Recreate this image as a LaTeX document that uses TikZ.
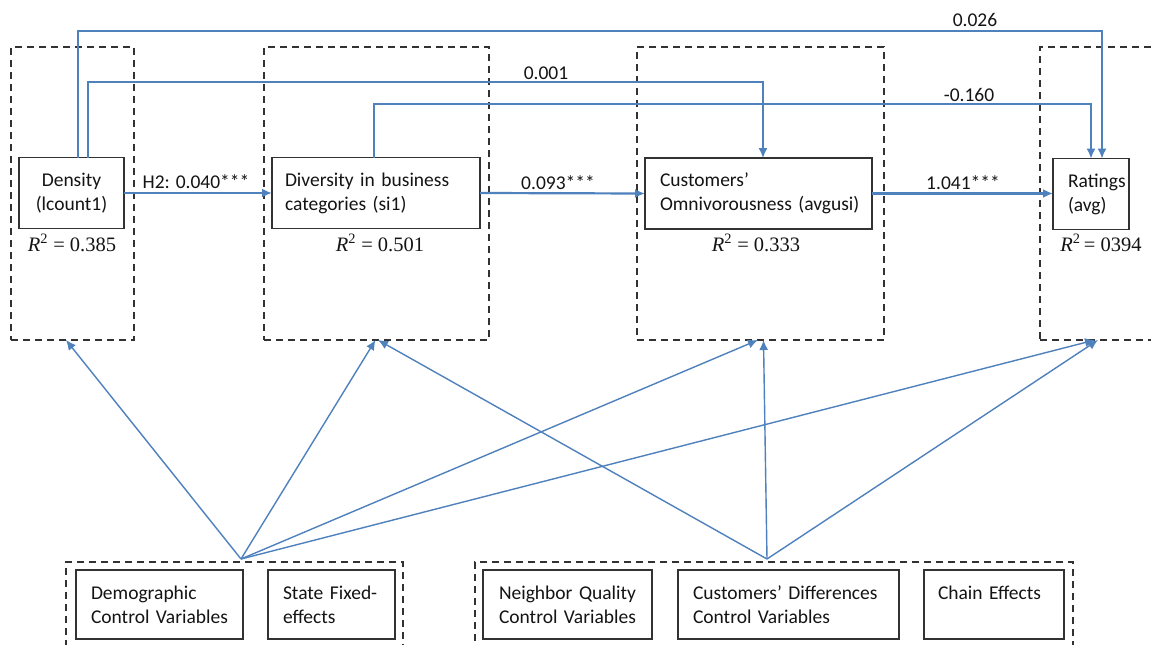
\documentclass[tikz,border=0pt]{standalone}
\usepackage{fontspec}
\setmainfont{Carlito}
\newfontfamily\eqfont{Liberation Serif}
\usetikzlibrary{arrows.meta}
\definecolor{pathblue}{RGB}{79,129,189}
\definecolor{frame}{RGB}{50,50,50}
\hyphenpenalty=10000
\exhyphenpenalty=10000
% an R-squared value set in a serif face
\newcommand{\rsq}[2][\ ]{{\eqfont\itshape R}\textsuperscript{\eqfont 2}{\eqfont#1=\ #2}}
\begin{document}
\begin{tikzpicture}[x=1pt,y=-1pt,
  every node/.style={font=\fontsize{19.5}{24}\selectfont, text=black!92},
  dbox/.style={draw=frame, line width=1.9pt, dash pattern=on 7pt off 5pt,
    inner sep=0pt, outer sep=0pt},
  sbox/.style={draw=frame, line width=1.4pt, inner ysep=0pt, outer sep=0pt,
    align=left, minimum height=71pt},
  lbl/.style={inner sep=0pt},
  eq/.style={lbl, font=\fontsize{20.5}{24}\selectfont},
  link/.style={draw=pathblue, line width=1.5pt, -{Latex[length=10pt,width=9pt]}},
  mainlink/.style={link, line width=2.2pt},
  fan/.style={draw=pathblue, line width=1.4pt, -{Latex[length=10pt,width=9pt]}},
]
\useasboundingbox (0,0) rectangle (1151,645);
\fill[white] (0,0) rectangle (1151,645);
\clip (0,0) rectangle (1151,645);

% dashed groups around the model variables
\node[dbox, minimum width=123pt, minimum height=293pt] (D1) at (72.5,193.5) {};
\node[dbox, minimum width=225pt, minimum height=293pt] (D2) at (376.5,193.5) {};
\node[dbox, minimum width=247pt, minimum height=293pt] (D3) at (760.5,193.5) {};
\node[dbox, minimum width=125pt, minimum height=293pt] (D4) at (1102.5,193.5) {};

% dashed groups around the controls
\node[dbox, minimum width=337pt, minimum height=100pt] (B1) at (234.5,612) {};
\node[dbox, minimum width=598pt, minimum height=100pt] (B2) at (774,612) {};

% model variables
\node[sbox, minimum width=105pt, inner xsep=7pt, text width=91pt, align=center]
  (dens) at (71.5,193) {Density\\(lcount1)};
\node[sbox, minimum width=208pt, inner xsep=13pt, text width=182pt]
  (divr) at (376,193) {Diversity~in~business\\categories~(si1)};
\node[sbox, minimum width=227pt, inner xsep=15pt, text width=197pt]
  (cust) at (758.5,193.5) {Customers’\\Omnivorousness~(avgusi)};
\node[sbox, minimum width=76pt, inner xsep=15pt, text width=46pt]
  (rat) at (1091,194) {Ratings\\(avg)};

% R-squared values
\node[eq] (r1) at (72,243) {\rsq{0.385}};
\node[eq] (r2) at (380,243) {\rsq{0.501}};
\node[eq] (r3) at (756,243) {\rsq{0.333}};
\node[eq] (r4) at (1101,243) {\rsq[\,]{0394}};

% control variables
\node[sbox, minimum width=167pt, minimum height=69pt, inner xsep=15pt, text width=137pt]
  (demo) at (159.5,604.5) {Demographic\\Control~Variables};
\node[sbox, minimum width=127pt, minimum height=69pt, inner xsep=15pt, text width=97pt]
  (state) at (331.5,604.5) {State~Fixed-\\effects};
\node[sbox, minimum width=169pt, minimum height=69pt, inner xsep=16pt, text width=137pt]
  (neigh) at (567.5,604.5) {Neighbor~Quality\\Control~Variables};
\node[sbox, minimum width=221pt, minimum height=69pt, inner xsep=15pt, text width=191pt]
  (cdiff) at (788.5,604.5) {Customers’~Differences\\Control~Variables};
\node[sbox, minimum width=140pt, minimum height=69pt, inner xsep=14pt, text width=112pt]
  (chain) at (994,604.5) {Chain~Effects\\\mbox{}};

% direct paths between the model variables
\draw[mainlink] (dens.east) -- (divr.west);
\draw[mainlink] (divr.east) -- (cust.west);
\draw[mainlink] (cust.east) -- (rat.west |- cust.east);
\node[lbl] (h2) at (196,182) {H2: 0.040***};
\node[lbl] (p2) at (558,183) {0.093***};
\node[lbl] (p3) at (963,183) {1.041***};

% paths skipping over intermediate variables
\coordinate (t026) at (1102,31);
\coordinate (t001) at (763,82);
\coordinate (t160) at (1091,104);
\draw[link] ([xshift=6.5pt]dens.north) |- (t026) -- (rat.north -| t026);
\draw[link] ([xshift=16.5pt]dens.north) |- (t001) -- (cust.north -| t001);
\draw[link] ([xshift=-2pt]divr.north) |- (t160) -- (rat.north -| t160);
\node[lbl] (l026) at (975,20) {0.026};
\node[lbl] (l001) at (546,73) {0.001};
\node[lbl] (l160) at (969,95) {-0.160};

% controls feeding every model variable
\coordinate (s1) at ([xshift=6.5pt,yshift=3pt]B1.north);
\coordinate (s2) at ([xshift=-7pt,yshift=3pt]B2.north);
\draw[fan] (s1) -- ([xshift=-6.5pt]D1.south);
\draw[fan] (s1) -- ([xshift=-1pt]D2.south);
\draw[fan] (s1) -- ([xshift=-2.5pt]D3.south);
\draw[fan] (s1) -- ([xshift=-7.5pt]D4.south);
\draw[fan] (s2) -- ([xshift=1.5pt]D2.south);
\draw[fan] (s2) -- ([xshift=3pt]D3.south);
\draw[fan] (s2) -- ([xshift=-4.5pt]D4.south);
\end{tikzpicture}
\end{document}
